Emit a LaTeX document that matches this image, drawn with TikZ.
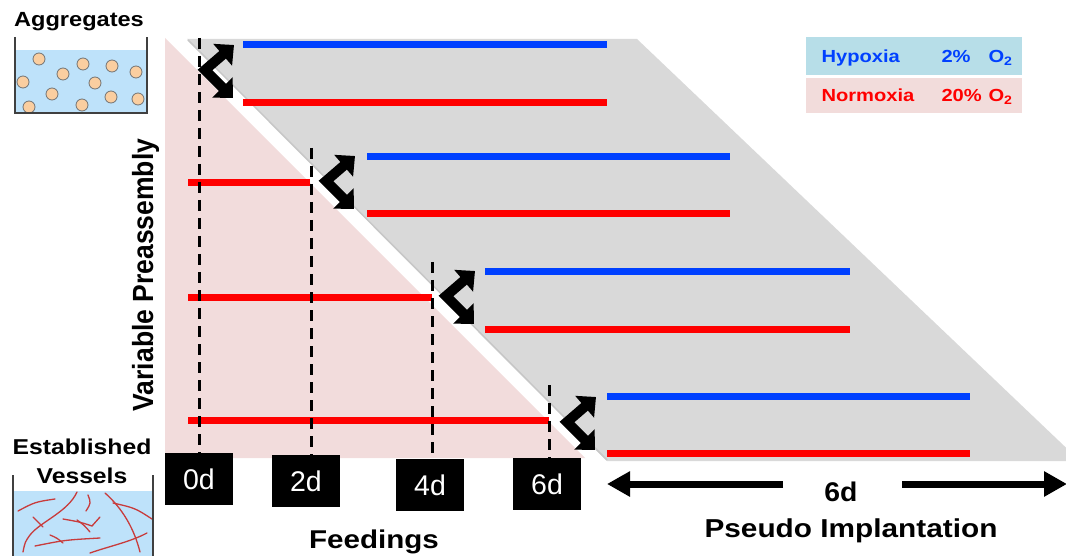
\documentclass[tikz,border=0pt]{standalone}
\usepackage{fontspec}
\setmainfont{Liberation Sans}
\usetikzlibrary{arrows.meta}
\definecolor{pinkbg}{RGB}{242,220,220}
\definecolor{graybg}{RGB}{217,217,217}
\definecolor{hypblue}{RGB}{0,64,255}
\definecolor{normred}{RGB}{255,0,0}
\definecolor{legblue}{RGB}{183,222,232}
\definecolor{legpink}{RGB}{242,220,219}
\definecolor{water}{RGB}{190,226,250}
\definecolor{cellfill}{RGB}{250,206,160}
\definecolor{vesselred}{RGB}{200,60,60}
\newcommand\sx[1]{\scalebox{1.15}[1]{#1}}
\newcommand\fsz[1]{\fontsize{#1}{#1}\selectfont}

\begin{document}
\begin{tikzpicture}[x=1pt,y=-1pt,
  hyp/.style={draw=hypblue,line width=7pt},
  norm/.style={draw=normred,line width=7pt},
  feedline/.style={draw=black,line width=3pt,dash pattern=on 11pt off 7pt},
  chevron/.style={line width=10pt,line join=miter,
    {Triangle[length=15pt,width=28pt]}-{Triangle[length=15pt,width=28pt]}},
  bigarrow/.style={line width=7pt,-{Triangle[length=23pt,width=24pt]}},
  daybox/.style={fill=black,text=white,minimum width=68pt,minimum height=52pt,
    inner sep=0pt,anchor=north,font=\fsz{28.5}},
  beaker/.style={draw=black!75,line width=2pt},
  cellball/.style={fill=cellfill,draw=black!55,line width=0.8pt},
  vessel/.style={draw=vesselred,line width=1.3pt,line cap=round},
  title/.style={anchor=base,font=\bfseries\fsz{#1}},
  legtext/.style={anchor=base west,font=\bfseries\fsz{17.5}}
]
\useasboundingbox (0,0) rectangle (1066,556);

% background regions
\fill[graybg] (187,39) -- (637,39) -- (1080,461) -- (607,461) -- cycle;
\draw[black!22,line width=1.5pt] (188,40) -- (607,460);
\fill[pinkbg] (165,38) -- (165,458) -- (585,458) -- cycle;

% culture bars inside the preassembly triangle
\draw[norm] (188,183) -- (310,183);
\draw[norm] (188,297) -- (432,297);
\draw[norm] (188,420) -- (549,420);

% hypoxia / normoxia bars
\draw[hyp]  (243,45)  -- (607,45);
\draw[norm] (243,103) -- (607,103);
\draw[hyp]  (367,157) -- (730,157);
\draw[norm] (367,214) -- (730,214);
\draw[hyp]  (485,272) -- (850,272);
\draw[norm] (485,329) -- (850,329);
\draw[hyp]  (607,396) -- (970,396);
\draw[norm] (607,453) -- (970,453);

% feeding day boxes
\node[daybox] (f0) at (199,453) {0d};
\node[daybox] (f2) at (306,455) {2d};
\node[daybox] (f4) at (430,459) {4d};
\node[daybox] (f6) at (547,458) {6d};

% dashed feeding markers
\coordinate (d0) at (199,38);
\coordinate (d2) at (311,148);
\coordinate (d4) at (432,262);
\coordinate (d6) at (549,385);
\draw[feedline] (d0) -- (d0 |- f0.north);
\draw[feedline] (d2) -- (d2 |- f2.north);
\draw[feedline] (d4) -- (d4 |- f4.north);
\draw[feedline] (d6) -- (d6 |- f6.north);

% split arrows into the two oxygen conditions
\foreach \vx/\vy in {205/70, 326/181, 446/296, 567/422}{
  \coordinate (v) at (\vx,\vy);
  \draw[chevron] ([shift={(29,-25)}]v) -- (v) -- ([shift={(28,28)}]v);
}

% legend
\fill[legblue] (806,37) rectangle (1022,75);
\fill[legpink] (806,78) rectangle (1022,113);
\node[legtext,text=hypblue] (hyp) at (818,63) {\sx{Hypoxia}};
\node[legtext,text=hypblue] (hyppc) at (938,63) {\sx{2\%}};
\node[legtext,text=hypblue] (hypo) at (985,63) {\sx{O\textsubscript{2}}};
\node[legtext,text=normred] (nor) at (818,102) {\sx{Normoxia}};
\node[legtext,text=normred] (norpc) at (938,102) {\sx{20\%}};
\node[legtext,text=normred] (noro) at (985,102) {\sx{O\textsubscript{2}}};

% aggregates beaker
\fill[water] (15,50) rectangle (147,113);
\foreach \cx/\cy in {39/59, 83/64, 112/66, 136/72, 63/74, 23/82, 95/83,
                     52/94, 111/97, 138/99, 29/107, 82/105}
  \draw[cellball] (\cx,\cy) circle (6pt);
\draw[beaker] (15,37) -- (15,113) -- (147,113) -- (147,37);
\node[title=20.5] (agg) at (79,27) {\sx{Aggregates}};

% established vessels beaker
\fill[water] (13,491) rectangle (153,560);
\draw[vessel] (18,511) .. controls (35,502) .. (55,499);
\draw[vessel] (77,492) .. controls (68,512) and (40,522) .. (30,535) .. controls (25,542) .. (23,552);
\draw[vessel] (88,495) .. controls (91,503) .. (86,511);
\draw[vessel] (105,493) .. controls (122,508) and (134,528) .. (140,552);
\draw[vessel] (113,503) .. controls (135,508) .. (152,519);
\draw[vessel] (63,519) .. controls (80,522) .. (92,526) .. controls (96,522) .. (100,517);
\draw[vessel] (33,517) -- (43,527);
\draw[vessel] (50,535) .. controls (57,538) .. (63,543);
\draw[vessel] (35,546) .. controls (65,540) .. (100,538);
\draw[vessel] (90,553) .. controls (110,546) and (130,542) .. (147,533);
\draw[vessel] (77,520) .. controls (84,525) .. (90,532);
\draw[beaker] (13,475) -- (13,560);
\draw[beaker] (153,475) -- (153,560);
\node[title=21.5] (est) at (82,454) {\sx{Established}};
\node[title=21.5] (ves) at (82,483) {\sx{Vessels}};

% axis titles
\node[title=26.5,rotate=90] (vp) at (153,275) {\scalebox{1}[1.1]{Variable Preassembly}};
\node[title=25.7] (feed) at (374,548) {\sx{Feedings}};

% pseudo implantation span
\node[title=27] (six) at (841,501) {\scalebox{1.05}[1]{6d}};
\node[title=25.9] (pseudo) at (851,537) {\sx{Pseudo Implantation}};
\coordinate (al) at (783,484);
\coordinate (pl) at (607,484);
\coordinate (ar) at (902,484);
\coordinate (pr) at (1067,484);
\draw[bigarrow] (al) -- (pl);
\draw[bigarrow] (ar) -- (pr);
\end{tikzpicture}
\end{document}
